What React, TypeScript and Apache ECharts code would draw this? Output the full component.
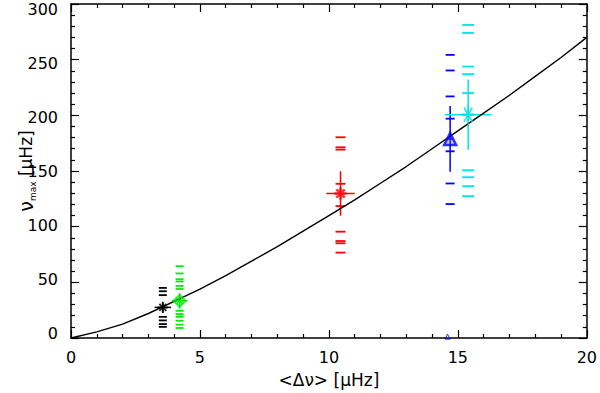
import React, { useEffect, useRef } from "react";
import * as echarts from "echarts";

// model curve
const curveX = [0, 1, 2, 3, 4, 5, 6, 7, 8, 9, 10, 11, 12, 13, 14, 15, 16, 17, 18, 19, 20];
const curveY = [0, 5.5, 12.5, 22, 33, 44, 56, 69, 82, 96, 110, 124, 139, 154, 170, 186, 202, 218, 235, 252, 270];

// main points
const groupColors = ["#000000", "#00ee00", "#ff0000", "#0000ff", "#00e5e5"];
const groupX = [3.56, 4.21, 10.45, 14.7, 15.4];
const groupY = [27.5, 33.4, 129.8, 178.8, 200.6];
const groupXErr = [0.32, 0.3, 0.55, 0.1, 0.9];
const groupYErr = [5, 7, 20, 29.5, 31.5];

// other estimates (short dashes)
const blackDashY = [45, 42, 38.5, 19, 15.8, 12.5, 10];
const greenDashY = [64.5, 58, 52.8, 50.8, 46.8, 44, 24.4, 21.5, 19, 15.5, 12, 9];
const redDashY = [180.3, 171.3, 169.2, 138.5, 118.5, 95.5, 87.1, 85.1, 76.7];
const blueDashY = [254.3, 240.3, 217, 197, 167.7, 138.8, 120.3];
const cyanDashY = [281.2, 274, 243.8, 237, 220, 150.7, 144.4, 136.4, 127.4];
const dashWidths = [8, 8, 10, 9, 12];

// lone low blue point
const blueLow = [[14.6, 1.2]];

const yLabelValues = [0, 50, 100, 150, 200, 250, 300];

const FONT = "DejaVu Sans";
const STAR = "path://M10,0L10,20M0,10L20,10M3,3L17,17M3,17L17,3";

export default function App() {
  const ref = useRef<HTMLDivElement>(null);
  useEffect(() => {
    if (!ref.current) return;
    const chart = echarts.init(ref.current, undefined, { renderer: "svg" });
    const dashSets = [blackDashY, greenDashY, redDashY, blueDashY, cyanDashY];
    const dashSeries = dashSets.map((ys, i) => ({
      type: "scatter",
      symbol: "rect",
      symbolSize: [dashWidths[i], 1.8],
      itemStyle: { color: groupColors[i], opacity: 1 },
      data: ys.map((y) => [groupX[i], y]),
      z: 2,
    }));
    const errData = groupX.map((x, i) => [x, groupY[i], groupXErr[i], groupYErr[i]]);
    const axisLineStyle = { color: "#000", width: 1.5 };
    const tickStyle = { color: "#000", width: 1.2 };
    const baseX = {
      type: "value",
      min: 0,
      max: 20,
      interval: 5,
      axisLine: { show: true, onZero: false, lineStyle: axisLineStyle },
      axisTick: { show: true, inside: true, length: 8, lineStyle: tickStyle },
      minorTick: { show: true, splitNumber: 5, length: 4, lineStyle: tickStyle },
      splitLine: { show: false },
    };
    const baseY = {
      type: "value",
      min: 0,
      max: 300,
      interval: 50,
      axisLine: { show: true, onZero: false, lineStyle: axisLineStyle },
      axisTick: { show: true, inside: true, length: 8, lineStyle: tickStyle },
      minorTick: { show: true, splitNumber: 5, length: 4, lineStyle: tickStyle },
      splitLine: { show: false },
    };
    chart.setOption({
      animation: false,
      textStyle: { fontFamily: FONT },
      grid: { left: 71, right: 11, top: 4, bottom: 54 },
      xAxis: [
        {
          ...baseX,
          position: "bottom",
          axisLabel: { show: true, color: "#000", fontSize: 16, fontFamily: FONT, margin: 11 },
          name: "<Δν> [μHz]",
          nameLocation: "middle",
          nameGap: 33,
          nameTextStyle: { color: "#000", fontSize: 17, fontFamily: FONT },
        },
        { ...baseX, position: "top", axisLabel: { show: false } },
      ],
      yAxis: [
        {
          ...baseY,
          position: "left",
          axisLabel: { show: false },
          name: "{nu|ν}{sub|max}{t| [μHz]}",
          nameLocation: "middle",
          nameGap: 34,
          nameRotate: 90,
          nameTextStyle: {
            color: "#000",
            fontFamily: FONT,
            rich: {
              nu: { fontSize: 19, lineHeight: 22, fontFamily: FONT, color: "#000" },
              sub: { fontSize: 9, lineHeight: 9, verticalAlign: "bottom", fontFamily: FONT, color: "#000" },
              t: { fontSize: 17, lineHeight: 22, fontFamily: FONT, color: "#000" },
            },
          },
        },
        { ...baseY, position: "right", axisLabel: { show: false } },
        {
          type: "value",
          min: -4.6,
          max: 305,
          position: "left",
          axisLine: { show: false },
          axisTick: { show: false },
          splitLine: { show: false },
          axisLabel: {
            show: true,
            customValues: yLabelValues,
            color: "#000",
            fontSize: 16,
            fontFamily: FONT,
            margin: 13,
          },
        },
      ],
      series: [
        ...dashSeries,
        {
          type: "custom",
          coordinateSystem: "cartesian2d",
          data: errData,
          encode: { x: 0, y: 1 },
          z: 3,
          renderItem: (params: any, api: any) => {
            const x = api.value(0);
            const y = api.value(1);
            const xe = api.value(2);
            const ye = api.value(3);
            const color = groupColors[params.dataIndex];
            const l = api.coord([x - xe, y]);
            const r = api.coord([x + xe, y]);
            const b = api.coord([x, y - ye]);
            const t = api.coord([x, y + ye]);
            const style = { stroke: color, lineWidth: 1.5 };
            return {
              type: "group",
              children: [
                { type: "line", shape: { x1: l[0], y1: l[1], x2: r[0], y2: r[1] }, style },
                { type: "line", shape: { x1: b[0], y1: b[1], x2: t[0], y2: t[1] }, style },
              ],
            };
          },
        },
        {
          type: "line",
          data: curveX.map((x, i) => [x, curveY[i]]),
          smooth: false,
          showSymbol: false,
          symbol: "none",
          lineStyle: { color: "#000", width: 1.4 },
          z: 4,
        },
        {
          type: "scatter",
          symbol: STAR,
          symbolSize: 10,
          itemStyle: { color: "#000", borderColor: "#000", borderWidth: 2 },
          data: [[groupX[0], groupY[0]]],
          z: 5,
        },
        {
          type: "scatter",
          symbol: "diamond",
          symbolSize: 12,
          itemStyle: { color: "rgba(0,0,0,0)", borderColor: groupColors[1], borderWidth: 2 },
          data: [[groupX[1], groupY[1]]],
          z: 5,
        },
        {
          type: "scatter",
          symbol: STAR,
          symbolSize: 9,
          itemStyle: { color: groupColors[1], borderColor: groupColors[1], borderWidth: 1.5 },
          data: [[groupX[1], groupY[1]]],
          z: 5,
        },
        {
          type: "scatter",
          symbol: STAR,
          symbolSize: 12,
          itemStyle: { color: groupColors[2], borderColor: groupColors[2], borderWidth: 2.5 },
          data: [[groupX[2], groupY[2]]],
          z: 5,
        },
        {
          type: "scatter",
          symbol: "triangle",
          symbolSize: 12,
          itemStyle: { color: "rgba(60,60,255,0.35)", borderColor: groupColors[3], borderWidth: 2.5 },
          data: [[groupX[3], groupY[3]]],
          z: 5,
        },
        {
          type: "scatter",
          symbol: "triangle",
          symbolSize: 5,
          itemStyle: { color: "rgba(0,0,0,0)", borderColor: groupColors[3], borderWidth: 1 },
          data: blueLow,
          z: 5,
        },
        {
          type: "scatter",
          symbol: STAR,
          symbolSize: [12, 20],
          itemStyle: { color: groupColors[4], borderColor: groupColors[4], borderWidth: 2 },
          data: [[groupX[4], groupY[4]]],
          z: 5,
        },
      ],
    });
    return () => chart.dispose();
  }, []);
  return <div ref={ref} style={{ width: 600, height: 393, position: "absolute", left: 0, top: 0 }} />;
}
